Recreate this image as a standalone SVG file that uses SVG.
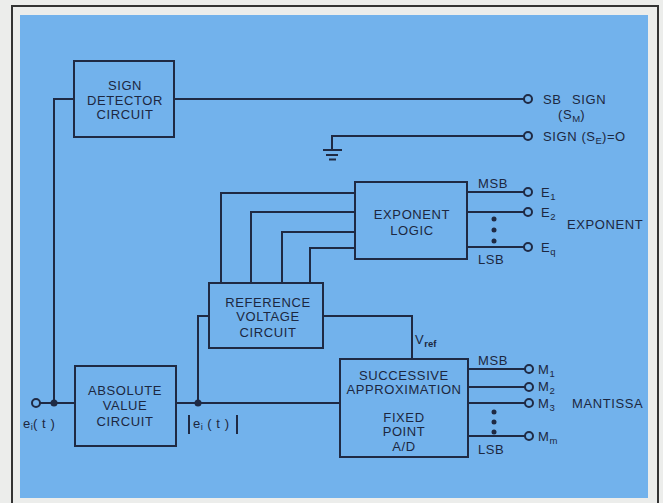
<svg xmlns="http://www.w3.org/2000/svg" width="663" height="503" viewBox="0 0 663 503">
<style>
.box{fill:none;stroke:#1f2a44;stroke-width:2}
.ln{fill:none;stroke:#1f2a44;stroke-width:2}
.t{font-family:"Liberation Sans",Arial,sans-serif;font-size:13px;letter-spacing:0.6px;fill:#1c2740}
.c{text-anchor:middle}
.s{font-size:9.5px;letter-spacing:0}
.term{fill:none;stroke:#1f2a44;stroke-width:2}
.dot{fill:#1f2a44}
</style>
<rect x="0" y="0" width="663" height="503" fill="#ecedeb"/>
<rect x="20" y="15" width="628" height="483" fill="#72b2ec"/>
<path d="M12 503 V6 H658 V503" fill="none" stroke="#333" stroke-width="2"/>

<g id="connectors">
<path class="ln" d="M174 99 H524"/>
<path class="ln" d="M74 99 H54 V403"/>
<path class="ln" d="M40 403 H75"/>
<path class="ln" d="M176 403 H340"/>
<path class="ln" d="M209 316 H198 V403"/>
<path class="ln" d="M323 316 H412 V359"/>
<path class="ln" d="M524 136 H332 V150"/>
<path class="ln" d="M323 150 H342 M326 155 H338 M329 159.5 H336"/>
<path class="ln" d="M221 283 V193 H355 M251 283 V212 H355 M282 283 V232 H355 M310 283 V248 H355"/>
<path class="ln" d="M467 192 H524 M467 212 H524 M467 247 H524"/>
<path class="ln" d="M468 369 H525 M468 387 H525 M468 403 H525 M468 436 H525"/>
<circle class="term" cx="528" cy="99" r="4"/>
<circle class="term" cx="528" cy="136" r="4"/>
<circle class="term" cx="528" cy="192" r="4"/>
<circle class="term" cx="528" cy="212" r="4"/>
<circle class="term" cx="528" cy="247" r="4"/>
<circle class="term" cx="529" cy="369" r="4"/>
<circle class="term" cx="529" cy="387" r="4"/>
<circle class="term" cx="529" cy="403" r="4"/>
<circle class="term" cx="529" cy="436" r="4"/>
<circle class="term" cx="36" cy="403" r="4"/>
<circle class="dot" cx="54" cy="403" r="3.5"/>
<circle class="dot" cx="198" cy="403" r="3.5"/>
<circle class="dot" cx="494" cy="219" r="2.5"/>
<circle class="dot" cx="494" cy="230" r="2.5"/>
<circle class="dot" cx="494" cy="241" r="2.5"/>
<circle class="dot" cx="494" cy="412" r="2.5"/>
<circle class="dot" cx="494" cy="422" r="2.5"/>
<circle class="dot" cx="494" cy="432" r="2.5"/>
<path class="ln" d="M189 415 V434 M237 415 V434"/>
</g>

<g id="sign-detector">
<rect class="box" x="74" y="61" width="100" height="76"/>
<text class="t c" x="125" y="90">SIGN</text>
<text class="t c" x="125" y="104.5">DETECTOR</text>
<text class="t c" x="125" y="119">CIRCUIT</text>
</g>

<g id="exponent-logic">
<rect class="box" x="355" y="182" width="112" height="77"/>
<text class="t c" x="412" y="219">EXPONENT</text>
<text class="t c" x="412" y="235">LOGIC</text>
</g>

<g id="reference-voltage">
<rect class="box" x="209" y="283" width="114" height="65"/>
<text class="t c" x="268" y="306.5">REFERENCE</text>
<text class="t c" x="268" y="321">VOLTAGE</text>
<text class="t c" x="268" y="336.5">CIRCUIT</text>
</g>

<g id="absolute-value">
<rect class="box" x="75" y="366" width="101" height="80"/>
<text class="t c" x="125" y="395">ABSOLUTE</text>
<text class="t c" x="125" y="410">VALUE</text>
<text class="t c" x="125" y="426">CIRCUIT</text>
</g>

<g id="successive-approximation">
<rect class="box" x="340" y="359" width="128" height="98"/>
<text class="t c" x="404" y="379.5">SUCCESSIVE</text>
<text class="t c" x="404" y="394">APPROXIMATION</text>
<text class="t c" x="404" y="421.5">FIXED</text>
<text class="t c" x="404" y="436">POINT</text>
<text class="t c" x="404" y="450.5">A/D</text>
</g>

<g id="labels">
<text class="t" x="543" y="104">SB</text>
<text class="t" x="572" y="104">SIGN</text>
<text class="t" x="558" y="119">(S<tspan class="s" dy="3">M</tspan><tspan dy="-3">)</tspan></text>
<text class="t" x="543" y="141">SIGN (S<tspan class="s" dy="3">E</tspan><tspan dy="-3">)=O</tspan></text>
<text class="t" x="478" y="188">MSB</text>
<text class="t" x="478" y="264">LSB</text>
<text class="t" x="541" y="197">E<tspan class="s" dy="3">1</tspan></text>
<text class="t" x="541" y="217">E<tspan class="s" dy="3">2</tspan></text>
<text class="t" x="541" y="252">E<tspan class="s" dy="3">q</tspan></text>
<text class="t" x="567" y="229">EXPONENT</text>
<text class="t" x="415" y="344">V<tspan class="s" dy="3" font-weight="bold">ref</tspan></text>
<text class="t" x="478" y="365">MSB</text>
<text class="t" x="478" y="454">LSB</text>
<text class="t" x="538" y="374">M<tspan class="s" dy="3">1</tspan></text>
<text class="t" x="538" y="391">M<tspan class="s" dy="3">2</tspan></text>
<text class="t" x="538" y="408">M<tspan class="s" dy="3">3</tspan></text>
<text class="t" x="538" y="441">M<tspan class="s" dy="3">m</tspan></text>
<text class="t" x="572" y="408">MANTISSA</text>
<text class="t" x="23" y="428">e<tspan class="s" dy="2">i</tspan><tspan dy="-2">( t )</tspan></text>
<text class="t" x="193" y="428">e<tspan class="s" dy="2">i</tspan><tspan dy="-2"> ( t )</tspan></text>
</g>
</svg>
